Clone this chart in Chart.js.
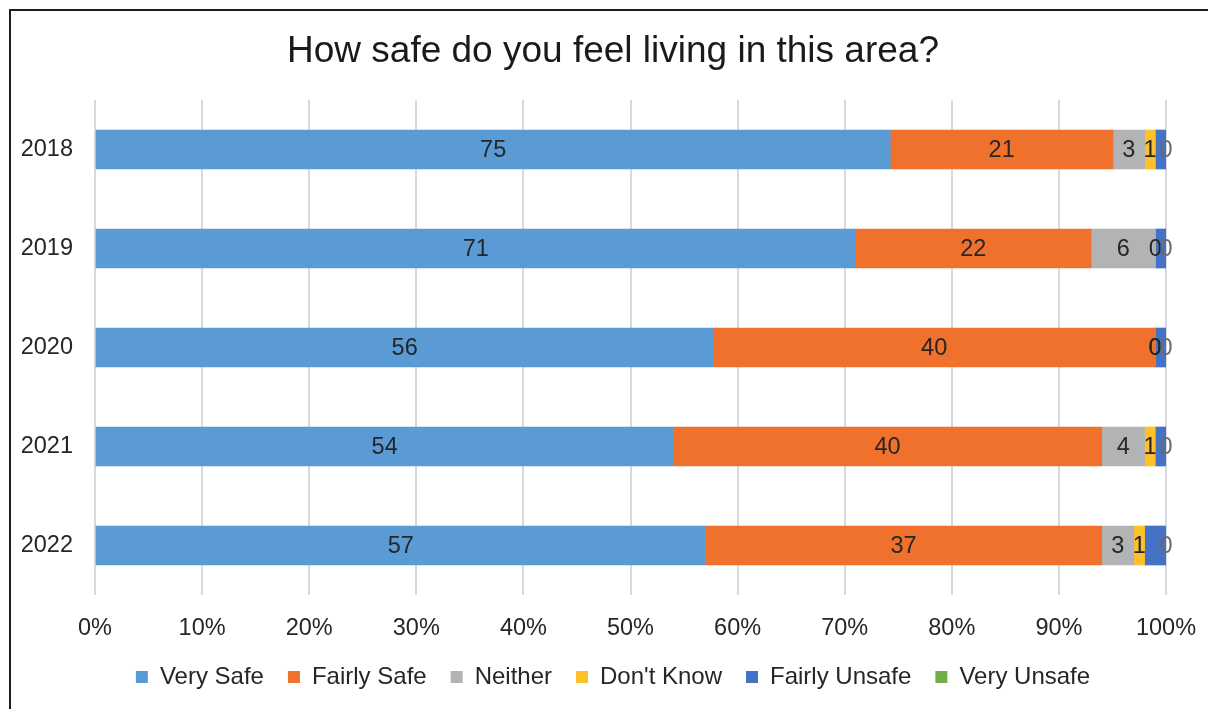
<!DOCTYPE html>
<html>
<head>
<meta charset="utf-8">
<script src="https://cdn.jsdelivr.net/npm/chart.js@4/dist/chart.umd.min.js"></script>
<style>
  html, body { margin: 0; padding: 0; background: #fff; overflow: hidden; }
  #wrap { position: relative; width: 1208px; height: 709px; }
  #frame { position: absolute; left: 9px; top: 9px; width: 1300px; height: 800px;
           border-left: 2px solid #1e1e1e; border-top: 2px solid #1e1e1e; pointer-events: none; }
</style>
</head>
<body>
<div id="wrap">
  <canvas id="c" width="1208" height="709"></canvas>
  <div id="frame"></div>
</div>
<script>
const years = ['2018', '2019', '2020', '2021', '2022'];
const seriesNames = ['Very Safe', 'Fairly Safe', 'Neither', "Don't Know", 'Fairly Unsafe', 'Very Unsafe'];
const verySafe     = [75, 71, 56, 54, 57];
const fairlySafe   = [21, 22, 40, 40, 37];
const neither      = [3, 6, 0, 4, 3];
const dontKnow     = [1, 0, 0, 1, 1];
const fairlyUnsafe = [1, 1, 1, 1, 2];
const veryUnsafe   = [0, 0, 0, 0, 0];
const xTicks = [0, 10, 20, 30, 40, 50, 60, 70, 80, 90, 100];

const colors = ['#5B9BD5', '#F0712B', '#B1B3B4', '#FFC12A', '#4472C4', '#70AD47'];
const raw = [verySafe, fairlySafe, neither, dontKnow, fairlyUnsafe, veryUnsafe];
const totals = years.map((_, i) => raw.reduce((s, arr) => s + arr[i], 0));
const showLabel = [true, true, true, true, false, true];
const labelColor = ['#262626', '#262626', '#262626', '#262626', '#262626', '#6b6b6b'];

const datasets = raw.map((arr, k) => ({
  label: seriesNames[k],
  data: arr.map((v, i) => v / totals[i] * 100),
  rawValues: arr,
  backgroundColor: colors[k],
  borderWidth: 0,
  barThickness: 39
}));

const FONT = "'Liberation Sans', Arial, sans-serif";
const TICK_SIZE = 23.5;

const valueLabels = {
  id: 'valueLabels',
  afterDatasetsDraw(chart) {
    const ctx = chart.ctx;
    ctx.save();
    ctx.font = TICK_SIZE + 'px ' + FONT;
    ctx.textAlign = 'center';
    ctx.textBaseline = 'middle';
    chart.data.datasets.forEach((ds, k) => {
      if (!showLabel[k]) return;
      const meta = chart.getDatasetMeta(k);
      meta.data.forEach((bar, i) => {
        const cx = (bar.x + bar.base) / 2;
        ctx.fillStyle = labelColor[k];
        ctx.fillText(String(ds.rawValues[i]), cx, bar.y + 1);
      });
    });
    ctx.restore();
  }
};

new Chart(document.getElementById('c'), {
  type: 'bar',
  data: { labels: years, datasets },
  plugins: [valueLabels],
  options: {
    indexAxis: 'y',
    responsive: false,
    animation: false,
    devicePixelRatio: 1,
    layout: { padding: { left: 18, right: 0, top: 0, bottom: 10 } },
    scales: {
      x: {
        stacked: true,
        min: 0, max: 100,
        afterBuildTicks(scale) { scale.ticks = xTicks.map(v => ({ value: v })); },
        afterFit(scale) { scale.height = 46; scale.paddingRight = 42; },
        ticks: { callback: v => v + '%', font: { family: FONT, size: TICK_SIZE }, color: '#262626', padding: 19, maxRotation: 0, autoSkip: false },
        grid: { color: '#D9D9D9', lineWidth: 2, drawTicks: false },
        border: { display: false }
      },
      y: {
        stacked: true,
        afterFit(scale) { scale.width = 77; },
        ticks: { font: { family: FONT, size: TICK_SIZE }, color: '#262626', padding: 22 },
        grid: { display: false, drawTicks: false },
        border: { display: false }
      }
    },
    plugins: {
      title: {
        display: true,
        text: 'How safe do you feel living in this area?',
        font: { family: FONT, size: 37, weight: 'normal' },
        color: '#1a1a1a',
        padding: { top: 30, bottom: 25.6 }
      },
      legend: {
        position: 'bottom',
        labels: {
          font: { family: FONT, size: 24 },
          color: '#262626',
          boxWidth: 12, boxHeight: 12,
          padding: 24
        }
      },
      tooltip: { enabled: false }
    }
  }
});
</script>
</body>
</html>
